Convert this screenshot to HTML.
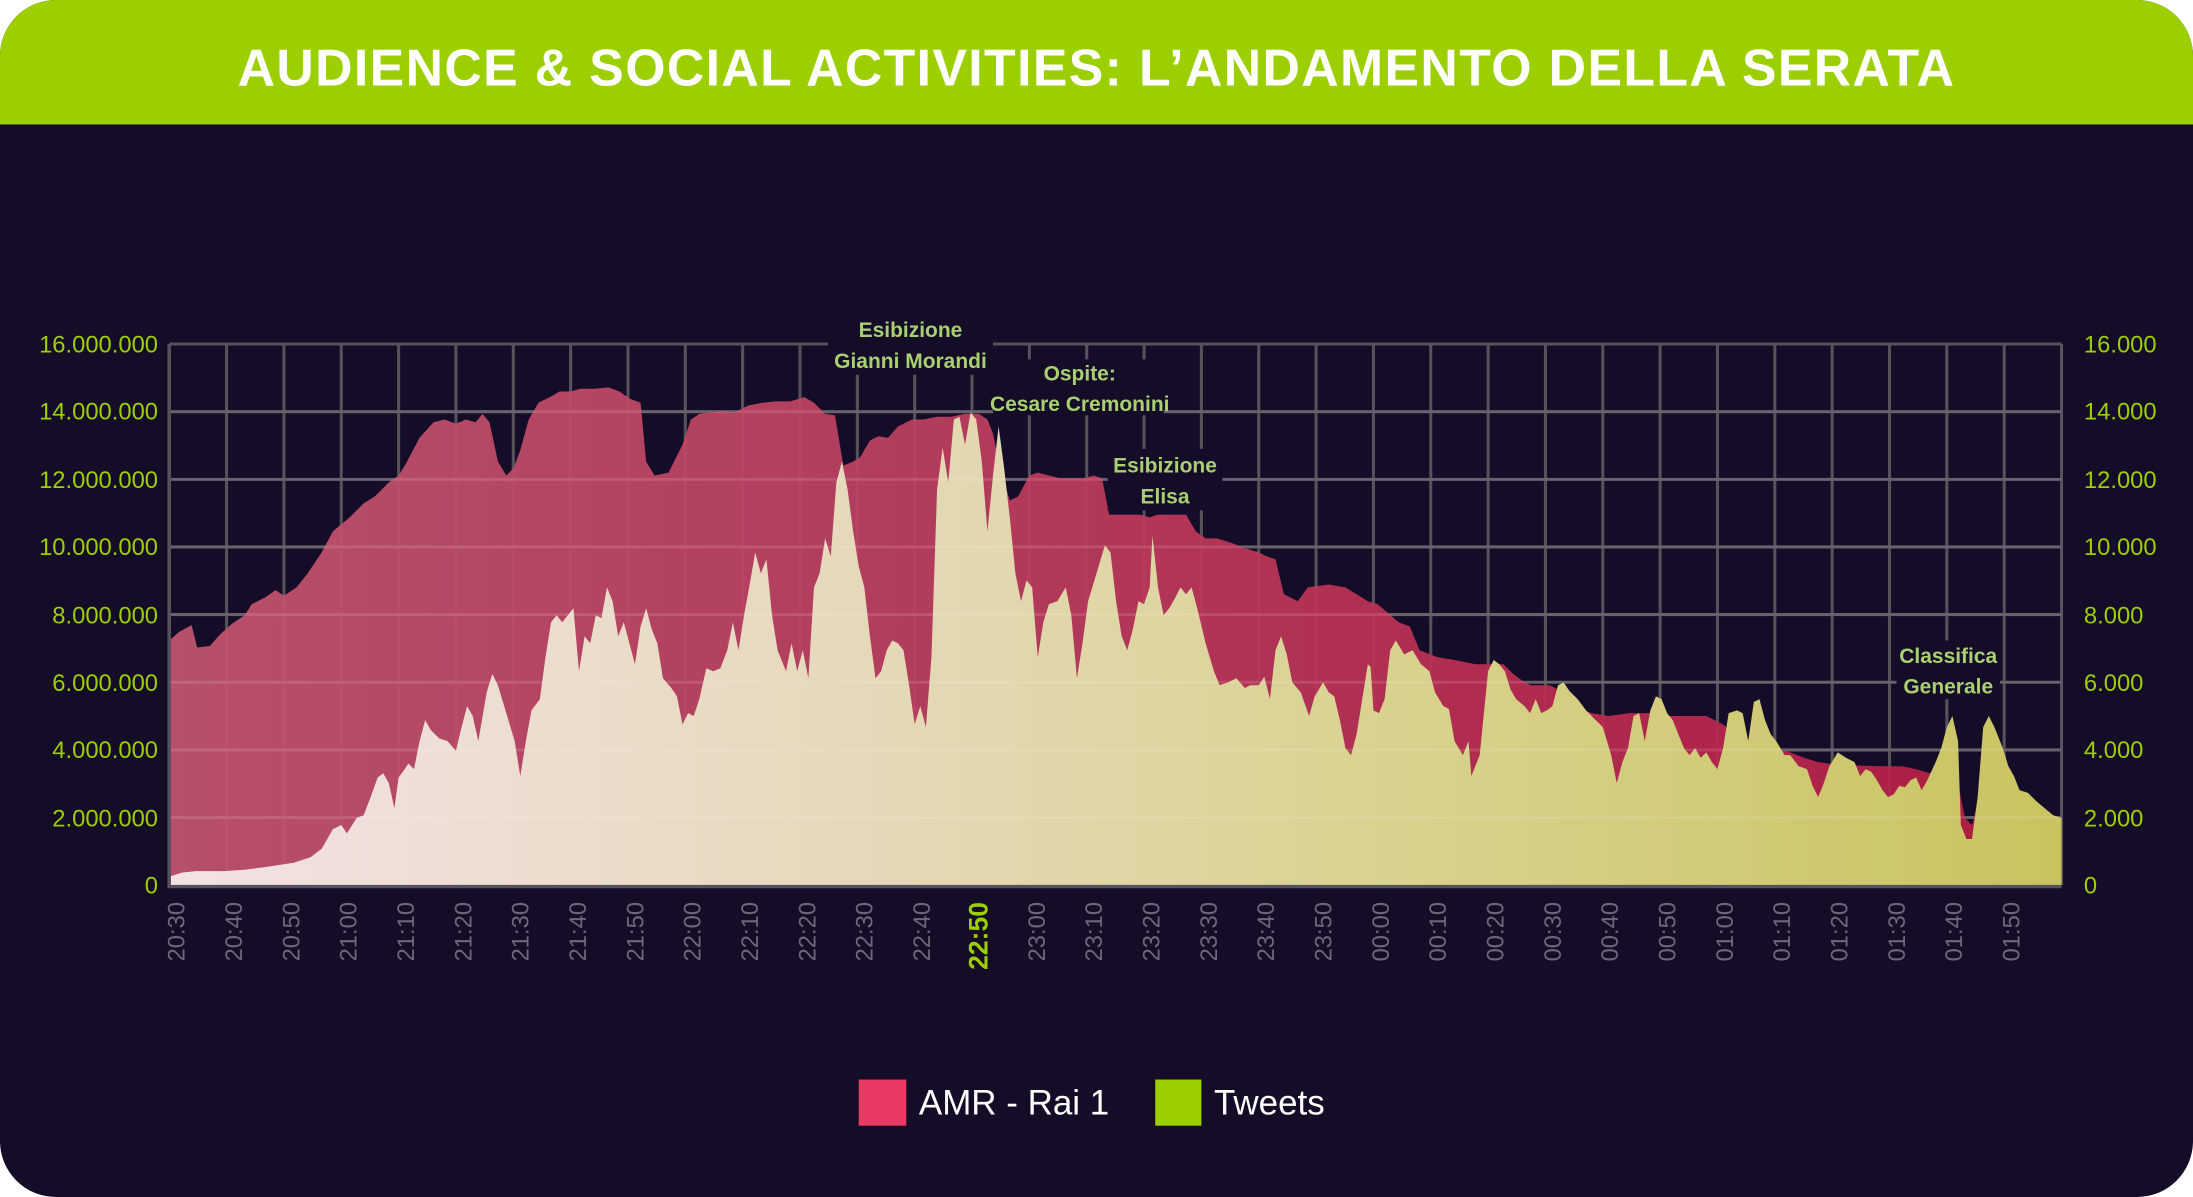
<!DOCTYPE html>
<html><head><meta charset="utf-8"><style>
html,body{margin:0;padding:0;background:#fff;}
svg{display:block;}
</style></head><body>
<svg width="2193" height="1197" viewBox="0 0 1568 856" preserveAspectRatio="none" xmlns="http://www.w3.org/2000/svg" font-family="Liberation Sans, sans-serif">
<defs>
<linearGradient id="rg" x1="0" x2="1" y1="0" y2="0">
<stop offset="0" stop-color="#c25570"/><stop offset="0.5" stop-color="#bd3a5c"/><stop offset="1" stop-color="#b81d45"/>
</linearGradient>
<linearGradient id="tg" x1="0" x2="1" y1="0" y2="0">
<stop offset="0" stop-color="#f3e2e6"/><stop offset="0.35" stop-color="#e6d9bc"/><stop offset="0.65" stop-color="#d8d28e"/><stop offset="1" stop-color="#c8c460"/>
</linearGradient>
<clipPath id="card"><rect x="0" y="0" width="1568" height="856" rx="40" ry="40"/></clipPath>
</defs>
<g clip-path="url(#card)">
<rect x="0" y="0" width="1568" height="856" fill="#150c28"/>
<rect x="0" y="0" width="1568" height="89" fill="#9ccf00"/>
</g>
<text x="784" y="61" text-anchor="middle" fill="#fff" font-size="37" font-weight="bold" letter-spacing="1">AUDIENCE &amp; SOCIAL ACTIVITIES: L’ANDAMENTO DELLA SERATA</text>

<!-- grid -->
<g stroke="#56525c" stroke-width="2.2" fill="none">
<path d="M121 246H1474M121 294.4H1474M121 342.8H1474M121 391.1H1474M121 439.5H1474M121 487.9H1474M121 536.3H1474M121 584.6H1474"/>
<path d="M162 246V633M203 246V633M244 246V633M285 246V633M326 246V633M367 246V633M408 246V633M449 246V633M490 246V633M531 246V633M572 246V633M613 246V633M654 246V633M695 246V633M736 246V633M777 246V633M818 246V633M859 246V633M900 246V633M941 246V633M982 246V633M1023 246V633M1064 246V633M1105 246V633M1146 246V633M1187 246V633M1228 246V633M1269 246V633M1310 246V633M1351 246V633M1392 246V633M1433 246V633M1474 246V633"/>
</g>

<!-- AMR -->
<path fill="url(#rg)" fill-opacity="0.93" d="M121 633 L121 458 128 452 137 447 141 463 150 462 158 453 166 446 175 440 180 432 190 427 197 422 203 426 212 420 220 410 230 395 238 380 250 370 260 360 268 355 278 345 285 340 290 332 300 313 310 302 318 300 326 303 333 300 340 302 345 296 350 302 356 330 362 340 367 335 372 322 378 300 385 288 395 283 400 280 408 280 415 278 425 278 435 277 443 280 450 285 458 288 462 330 468 340 478 338 488 318 494 300 500 296 515 294 525 295 535 290 545 288 555 287 565 287 575 284 582 288 590 296 597 297 603 333 610 330 615 327 622 315 628 312 635 313 642 305 652 300 660 300 670 298 680 298 690 296 700 296 706 300 710 310 714 330 722 358 728 355 736 340 742 338 750 340 758 342 766 342 775 342 782 340 788 342 793 368 800 368 815 368 822 370 828 368 840 368 848 368 855 380 862 385 870 385 880 388 890 392 900 395 906 398 912 400 918 425 928 430 935 420 950 418 962 420 970 425 978 430 985 432 992 438 1000 445 1008 448 1015 465 1028 470 1040 472 1055 475 1075 475 1082 482 1090 488 1095 490 1108 490 1118 495 1125 505 1138 510 1150 512 1165 510 1180 510 1190 512 1220 512 1232 518 1240 525 1255 530 1265 535 1280 538 1290 542 1300 545 1315 547 1345 548 1360 548 1370 550 1380 553 1390 556 1400 560 1405 585 1410 590 1415 570 1425 588 1440 594 1455 600 1474 606 L1474 633 Z"/>

<!-- Tweets -->
<path fill="url(#tg)" d="M121 633 L121 627 130 624 140 623 160 623 175 622 190 620 210 617 222 613 230 607 238 593 244 590 248 596 255 585 260 583 265 570 270 556 274 553 278 560 282 578 285 556 288 552 292 546 296 550 300 530 304 515 308 522 314 528 320 530 326 537 330 520 334 505 338 512 342 530 348 495 352 482 356 490 362 510 368 530 372 555 376 530 380 508 386 500 390 470 394 445 398 440 402 445 406 440 410 435 414 480 418 455 422 460 426 440 430 442 434 420 438 430 442 455 446 445 450 460 454 475 458 448 462 435 466 450 470 460 474 485 480 492 484 498 488 518 492 510 496 512 500 500 505 478 510 480 515 478 520 465 524 445 528 465 532 440 536 418 540 395 544 410 548 400 552 440 556 465 562 480 566 460 570 480 574 465 578 485 582 420 586 410 590 385 594 398 598 345 602 330 606 350 610 380 614 405 618 420 622 455 626 485 630 480 634 465 638 458 642 460 646 465 650 490 654 518 658 505 662 520 666 470 670 350 674 320 678 345 682 300 686 298 690 318 694 295 698 300 702 330 706 380 710 340 714 305 718 335 722 370 726 410 730 430 734 415 738 420 742 470 746 445 750 432 756 430 762 420 766 440 770 485 774 460 778 430 784 410 790 390 794 395 798 430 802 455 806 465 810 450 814 430 818 432 822 420 824 383 828 420 832 440 836 435 840 428 844 420 848 425 852 420 856 435 862 460 868 480 872 490 878 488 884 485 890 492 894 490 900 490 904 484 908 500 912 465 916 455 920 468 924 488 930 495 936 512 940 498 946 488 950 495 954 498 958 515 962 535 966 540 970 525 974 500 978 475 980 477 982 508 986 510 990 500 994 465 998 458 1004 468 1010 465 1016 475 1022 480 1026 495 1032 505 1036 507 1040 530 1046 540 1050 530 1052 555 1058 540 1064 480 1068 472 1072 475 1076 480 1080 493 1084 500 1090 505 1094 510 1098 500 1102 510 1106 508 1110 505 1114 490 1118 488 1122 494 1128 500 1134 508 1140 514 1146 520 1152 540 1156 560 1160 545 1164 535 1168 512 1172 510 1176 530 1180 508 1184 498 1188 500 1192 510 1196 515 1200 525 1204 535 1208 540 1212 535 1216 542 1220 538 1224 545 1228 550 1232 535 1236 510 1242 508 1246 510 1250 530 1254 502 1258 500 1262 515 1266 525 1270 530 1276 540 1280 540 1286 548 1292 550 1296 562 1300 570 1304 560 1308 548 1314 538 1320 542 1326 545 1330 555 1334 550 1338 552 1342 558 1346 565 1350 570 1354 568 1358 562 1362 563 1366 558 1370 556 1374 565 1378 558 1384 545 1388 535 1392 520 1396 512 1400 530 1402 590 1406 600 1410 600 1414 570 1418 520 1422 512 1426 520 1432 535 1436 548 1440 555 1444 565 1450 567 1456 573 1462 578 1468 583 1474 585 L1474 633 Z"/>

<!-- grid overlay tint -->
<g stroke="#ffffff" stroke-opacity="0.1" stroke-width="2" fill="none">
<path d="M121 294.4H1474M121 342.8H1474M121 391.1H1474M121 439.5H1474M121 487.9H1474M121 536.3H1474M121 584.6H1474"/>
</g>
<path d="M121 246V634H1474" stroke="#56525c" stroke-width="2.5" fill="none"/>

<!-- annotation boxes -->
<g fill="#150c28">
<rect x="592" y="226" width="118" height="42"/>
<rect x="710" y="257" width="122" height="40"/>
<rect x="792" y="321" width="82" height="44"/>
<rect x="1356" y="458" width="74" height="42"/>
</g>
<g fill="#a8d070" font-family="Liberation Sans Narrow, Liberation Sans, sans-serif" font-weight="bold" font-size="15" text-anchor="middle">
<text x="651" y="241">Esibizione</text><text x="651" y="263">Gianni Morandi</text>
<text x="772" y="272">Ospite:</text><text x="772" y="294">Cesare Cremonini</text>
<text x="833" y="338">Esibizione</text><text x="833" y="360">Elisa</text>
<text x="1393" y="474">Classifica</text><text x="1393" y="496">Generale</text>
</g>

<!-- y labels -->
<g fill="#9ccf00" font-size="17" text-anchor="end">
<text x="113" y="252">16.000.000</text><text x="113" y="300">14.000.000</text><text x="113" y="349">12.000.000</text><text x="113" y="397">10.000.000</text><text x="113" y="446">8.000.000</text><text x="113" y="494">6.000.000</text><text x="113" y="542">4.000.000</text><text x="113" y="591">2.000.000</text><text x="113" y="639">0</text>
</g>
<g fill="#9ccf00" font-size="17" text-anchor="start">
<text x="1490" y="252">16.000</text><text x="1490" y="300">14.000</text><text x="1490" y="349">12.000</text><text x="1490" y="397">10.000</text><text x="1490" y="446">8.000</text><text x="1490" y="494">6.000</text><text x="1490" y="542">4.000</text><text x="1490" y="591">2.000</text><text x="1490" y="639">0</text>
</g>

<!-- x labels -->
<g fill="#6d6878" font-size="17" text-anchor="end">
<text transform="translate(132,645) rotate(-90)">20:30</text>
<text transform="translate(173,645) rotate(-90)">20:40</text>
<text transform="translate(214,645) rotate(-90)">20:50</text>
<text transform="translate(255,645) rotate(-90)">21:00</text>
<text transform="translate(296,645) rotate(-90)">21:10</text>
<text transform="translate(337,645) rotate(-90)">21:20</text>
<text transform="translate(378,645) rotate(-90)">21:30</text>
<text transform="translate(419,645) rotate(-90)">21:40</text>
<text transform="translate(460,645) rotate(-90)">21:50</text>
<text transform="translate(501,645) rotate(-90)">22:00</text>
<text transform="translate(542,645) rotate(-90)">22:10</text>
<text transform="translate(583,645) rotate(-90)">22:20</text>
<text transform="translate(624,645) rotate(-90)">22:30</text>
<text transform="translate(665,645) rotate(-90)">22:40</text>
<text transform="translate(706,645) rotate(-90)" fill="#9ccf00" font-weight="bold" font-size="19">22:50</text>
<text transform="translate(747,645) rotate(-90)">23:00</text>
<text transform="translate(788,645) rotate(-90)">23:10</text>
<text transform="translate(829,645) rotate(-90)">23:20</text>
<text transform="translate(870,645) rotate(-90)">23:30</text>
<text transform="translate(911,645) rotate(-90)">23:40</text>
<text transform="translate(952,645) rotate(-90)">23:50</text>
<text transform="translate(993,645) rotate(-90)">00:00</text>
<text transform="translate(1034,645) rotate(-90)">00:10</text>
<text transform="translate(1075,645) rotate(-90)">00:20</text>
<text transform="translate(1116,645) rotate(-90)">00:30</text>
<text transform="translate(1157,645) rotate(-90)">00:40</text>
<text transform="translate(1198,645) rotate(-90)">00:50</text>
<text transform="translate(1239,645) rotate(-90)">01:00</text>
<text transform="translate(1280,645) rotate(-90)">01:10</text>
<text transform="translate(1321,645) rotate(-90)">01:20</text>
<text transform="translate(1362,645) rotate(-90)">01:30</text>
<text transform="translate(1403,645) rotate(-90)">01:40</text>
<text transform="translate(1444,645) rotate(-90)">01:50</text>
</g>

<!-- legend -->
<rect x="614" y="772" width="34" height="33" fill="#e83a62"/>
<text x="657" y="797" fill="#fff" font-size="25">AMR - Rai 1</text>
<rect x="826" y="772" width="33" height="33" fill="#9ccf00"/>
<text x="868" y="797" fill="#fff" font-size="25">Tweets</text>
</svg>
</body></html>
